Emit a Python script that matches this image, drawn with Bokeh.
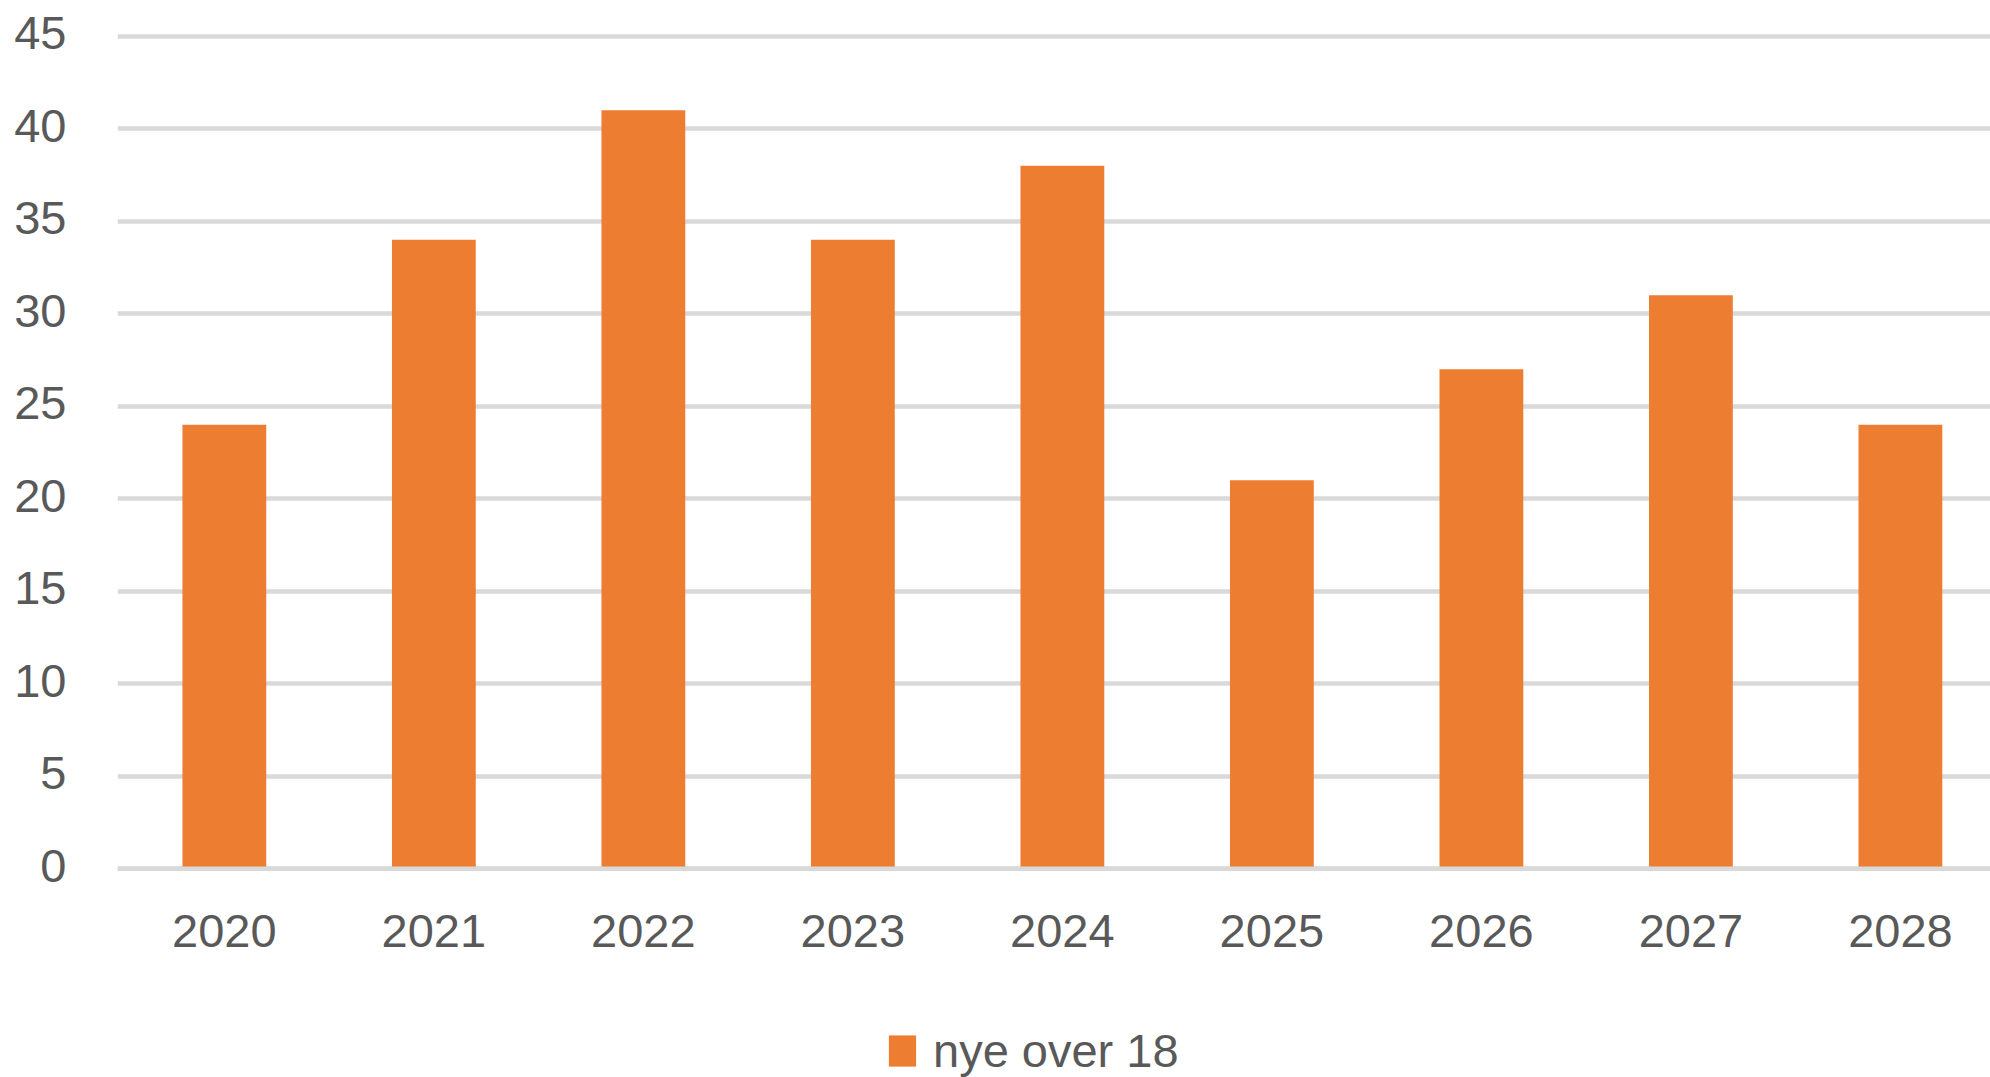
from bokeh.plotting import figure
from bokeh.layouts import column
from bokeh.models import (Range1d, FixedTicker, Legend, LegendItem, Span,
                          ColumnDataSource)
from bokeh.embed import file_html
from bokeh.resources import INLINE

# ---- data ----
years = ["2020", "2021", "2022", "2023", "2024", "2025", "2026", "2027", "2028"]
values = [24, 34, 41, 34, 38, 21, 27, 31, 24]
y_ticks = [0, 5, 10, 15, 20, 25, 30, 35, 40, 45]
series_name = "nye over 18"

BAR = "#ED7D31"
GRID = "#D9D9D9"
TXT = "#595959"
FONT = "Liberation Sans"
FS = "47px"

xs = list(range(len(years)))
src = ColumnDataSource(dict(x=xs, top=values, year=years))

# ---- main chart ----
p = figure(width=1990, height=1000, output_backend="svg", toolbar_location=None,
           x_range=Range1d(-0.51, 8.43), y_range=Range1d(-0.2, 45.2),
           min_border_left=117, min_border_right=0, min_border_top=32,
           min_border_bottom=128)
p.outline_line_color = None
p.background_fill_color = "white"
p.border_fill_color = "white"
# tick labels sit a few pixels above their gridlines, as in the original
p.extra_y_ranges = {"labels": Range1d(-0.36, 45.04)}

r = p.vbar(x="x", top="top", bottom=0, width=0.4, source=src,
           fill_color=BAR, line_color=None)

p.xgrid.visible = False
p.ygrid.ticker = FixedTicker(ticks=y_ticks)
p.ygrid.grid_line_color = GRID
p.ygrid.grid_line_width = 4.5

zero = Span(location=0, dimension="width", line_color=GRID, line_width=4.5,
            level="overlay")
p.add_layout(zero)

for ax in (p.xaxis[0], p.yaxis[0]):
    ax.axis_line_color = None
    ax.major_tick_line_color = None
    ax.minor_tick_line_color = None
    ax.major_label_text_font = FONT
    ax.major_label_text_font_size = FS
    ax.major_label_text_color = TXT

p.xaxis.ticker = FixedTicker(ticks=xs)
p.xaxis.major_label_overrides = {i: y for i, y in zip(xs, years)}
p.xaxis.major_label_standoff = 36

p.yaxis.ticker = FixedTicker(ticks=y_ticks)
p.yaxis.major_label_standoff = 45
p.yaxis.y_range_name = "labels"

# ---- legend strip (same series, drawn outside its visible range) ----
lg = figure(width=1990, height=77, output_backend="svg", toolbar_location=None,
            x_range=Range1d(100, 101), y_range=Range1d(100, 101),
            x_axis_type=None, y_axis_type=None,
            min_border_left=117, min_border_right=0, min_border_top=0,
            min_border_bottom=0)
lg.outline_line_color = None
lg.background_fill_color = "white"
lg.border_fill_color = "white"
lg.xgrid.visible = False
lg.ygrid.visible = False
swatch = lg.vbar(x="x", top="top", bottom=0, width=0.4, source=src,
                 fill_color=BAR, line_color=None)

legend = Legend(items=[LegendItem(label=series_name, renderers=[swatch])],
                location=(768, -3), orientation="horizontal",
                glyph_width=34, glyph_height=39, label_height=60,
                label_standoff=14, padding=0, margin=0, spacing=0,
                border_line_color=None, background_fill_alpha=0,
                label_text_font=FONT, label_text_font_size=FS,
                label_text_color=TXT)
lg.add_layout(legend, "center")

layout = column(p, lg, spacing=0)
open("out.html", "w").write(file_html(layout, INLINE))
